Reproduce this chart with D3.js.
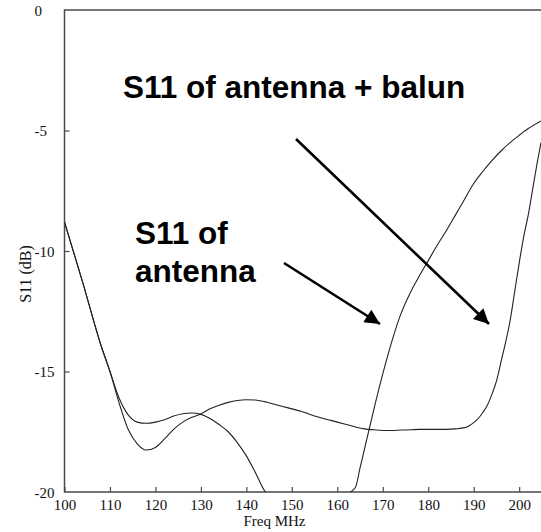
<!DOCTYPE html>
<html>
<head>
<meta charset="utf-8">
<script src="https://cdn.jsdelivr.net/npm/d3@7"></script>
<style>
  html, body { margin: 0; padding: 0; background: #fff; }
  svg { display: block; }
</style>
</head>
<body>
<svg id="chart" width="541" height="532"></svg>
<script>
// ---- Data ----
const xTicks = [100, 110, 120, 130, 140, 150, 160, 170, 180, 190, 200];
const yTicks = [0, -5, -10, -15, -20];
const xLabel = "Freq MHz";
const yLabel = "S11 (dB)";

// S11 of antenna (null = below the -20 dB bottom of the plot)
const antennaFreq = [100, 104, 108, 110, 112, 114, 116, 118, 120, 122, 124, 126, 128, 130, 132, 134, 136, 138, 140, 142, 144, 144.6, 150, 161.9, 164, 165, 166, 167, 168, 170, 172, 174, 176, 178, 180, 182, 184, 186, 188, 190, 192, 194, 196, 198, 200, 202, 204.8];
const antennaS11  = [-8.8, -11.3, -13.9, -15.0, -16.1, -16.8, -17.1, -17.15, -17.1, -17.0, -16.85, -16.75, -16.72, -16.78, -16.95, -17.2, -17.5, -17.95, -18.5, -19.2, -19.95, -20.1, null, -20.1, -19.8, -19.0, -18.2, -17.4, -16.6, -15.1, -13.75, -12.6, -11.75, -11.05, -10.4, -9.75, -9.15, -8.5, -7.85, -7.2, -6.7, -6.25, -5.85, -5.5, -5.2, -4.92, -4.6];

// S11 of antenna + balun
const balunFreq = [100, 104, 108, 110, 112, 114, 116, 118, 120, 122, 124, 126, 128, 130, 132, 134, 136, 138, 140, 142, 144, 146, 148, 150, 152, 154, 156, 158, 160, 162, 164, 166, 168, 170, 172, 174, 176, 178, 180, 182, 184, 186, 188, 189, 190, 191, 192, 193, 194, 195, 196, 197, 198, 199, 200, 201, 202, 203, 204, 204.8];
const balunS11  = [-8.8, -11.3, -13.9, -15.0, -16.3, -17.4, -18.0, -18.26, -18.15, -17.8, -17.4, -17.1, -16.9, -16.76, -16.55, -16.4, -16.28, -16.2, -16.17, -16.18, -16.25, -16.35, -16.45, -16.55, -16.65, -16.78, -16.9, -17.0, -17.1, -17.2, -17.3, -17.38, -17.42, -17.45, -17.45, -17.43, -17.42, -17.4, -17.4, -17.4, -17.4, -17.38, -17.33, -17.25, -17.12, -16.95, -16.7, -16.4, -15.95, -15.4, -14.6, -13.8, -12.9, -11.7, -10.5, -9.4, -8.5, -7.4, -6.3, -5.5];

const annotations = [
  { lines: ["S11 of antenna + balun"], x: 123, y: 98 },
  { lines: ["S11 of", "antenna"], x: 135, y: 244 }
];
const arrows = [
  { x1: 296, y1: 139, x2: 489, y2: 324 },
  { x1: 284, y1: 263, x2: 380, y2: 324 }
];

// ---- Chart ----
const svg = d3.select("#chart");
const W = 541, H = 532;
const x = d3.scaleLinear().domain([100, 204.8]).range([64.5, 541]);
const y = d3.scaleLinear().domain([-20, 0]).range([492, 10]);

const axisColor = "#4a4a4a";
const serif = "'Liberation Serif', 'Times New Roman', serif";
const fmt = d => String(d);

// clip
svg.append("defs").append("clipPath").attr("id", "plotclip")
  .append("rect").attr("x", x(100)).attr("y", y(0))
  .attr("width", W - x(100)).attr("height", y(-20) - y(0));

// Frame (left, top, bottom)
svg.append("path")
  .attr("d", `M${W},${y(0)}H${x(100)}V${y(-20)}H${W}`)
  .attr("fill", "none").attr("stroke", axisColor).attr("stroke-width", 1.5);

// X axis
const gx = svg.append("g").attr("transform", `translate(0,${y(-20)})`)
  .call(d3.axisBottom(x).tickValues(xTicks).tickSizeInner(-5).tickSizeOuter(0).tickFormat(fmt));
gx.select(".domain").remove();
gx.selectAll(".tick line").attr("stroke", axisColor).attr("stroke-width", 1.2);
gx.selectAll(".tick text").attr("y", 18).attr("dy", 0)
  .attr("font-family", serif).attr("font-size", 15).attr("fill", "#111");

// Y axis
const gy = svg.append("g").attr("transform", `translate(${x(100)},0)`)
  .call(d3.axisLeft(y).tickValues(yTicks).tickSizeInner(-5).tickSizeOuter(0).tickFormat(fmt));
gy.select(".domain").remove();
gy.selectAll(".tick line").attr("stroke", axisColor).attr("stroke-width", 1.2)
  .attr("display", d => (d === 0 || d === -20) ? "none" : null);
gy.selectAll(".tick text").attr("x", -30).attr("dy", "0.35em")
  .attr("text-anchor", "start")
  .attr("font-family", serif).attr("font-size", 15).attr("fill", "#111");

// Axis labels
svg.append("text").attr("x", 274.5).attr("y", 526).attr("text-anchor", "middle")
  .attr("font-family", serif).attr("font-size", 15).attr("fill", "#111").text(xLabel);
svg.append("text").attr("transform", "translate(31,274) rotate(-90)").attr("text-anchor", "middle")
  .attr("font-family", serif).attr("font-size", 16).attr("fill", "#111").text(yLabel);

// Curves
const line = d3.line()
  .defined(d => d[1] !== null)
  .x(d => x(d[0])).y(d => y(d[1]))
  .curve(d3.curveMonotoneX);

const plot = svg.append("g").attr("clip-path", "url(#plotclip)");
plot.append("path")
  .datum(antennaFreq.map((f, i) => [f, antennaS11[i]]))
  .attr("d", line).attr("fill", "none").attr("stroke", "#222").attr("stroke-width", 1.1);
plot.append("path")
  .datum(balunFreq.map((f, i) => [f, balunS11[i]]))
  .attr("d", line).attr("fill", "none").attr("stroke", "#222").attr("stroke-width", 1.1);

// Annotations
const sans = "'Liberation Sans', Arial, Helvetica, sans-serif";
annotations.forEach(a => {
  const t = svg.append("text").attr("x", a.x).attr("y", a.y)
    .attr("font-family", sans).attr("font-weight", "bold").attr("font-size", 31.5).attr("fill", "#000");
  a.lines.forEach((l, i) => {
    t.append("tspan").attr("x", a.x).attr("dy", i === 0 ? 0 : 37.5).text(l);
  });
});

// Arrows
svg.select("defs").append("marker")
  .attr("id", "arrowhead").attr("viewBox", "0 0 10 10")
  .attr("refX", 10).attr("refY", 5)
  .attr("markerUnits", "userSpaceOnUse")
  .attr("markerWidth", 18).attr("markerHeight", 15)
  .attr("orient", "auto")
  .append("path").attr("d", "M0,0L10,5L0,10Z").attr("fill", "#000");

arrows.forEach(a => {
  svg.append("line")
    .attr("x1", a.x1).attr("y1", a.y1).attr("x2", a.x2).attr("y2", a.y2)
    .attr("stroke", "#000").attr("stroke-width", 2.6)
    .attr("marker-end", "url(#arrowhead)");
});
</script>
</body>
</html>
